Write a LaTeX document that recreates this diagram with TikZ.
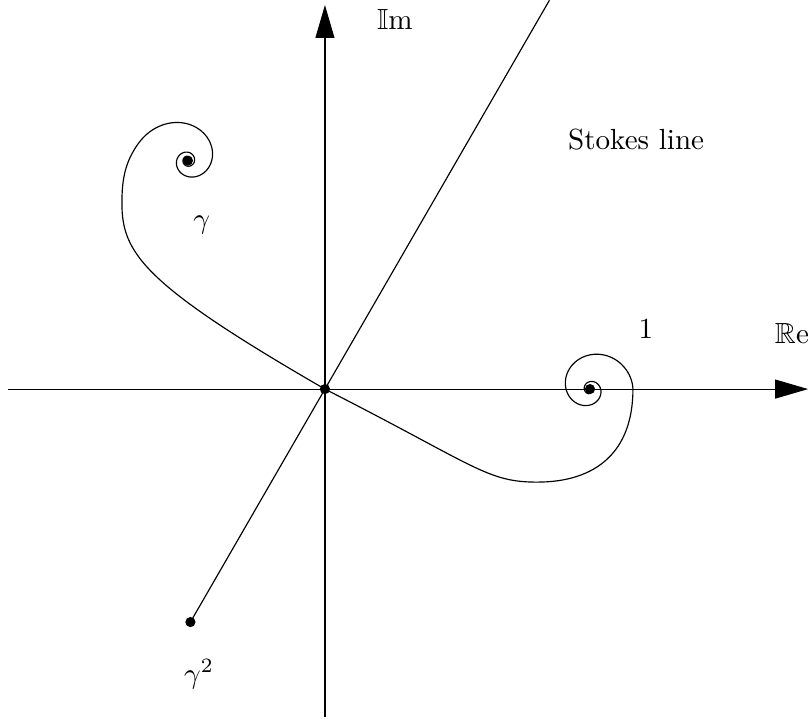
\documentclass[tikz,border=0pt]{standalone}
\usepackage{amsmath,amssymb}
\usepackage{tikz}
\usetikzlibrary{arrows.meta, calc}
\tikzstyle{root} = [circle, fill, inner sep=0pt, minimum size=3.5pt]
\tikzstyle{axis} = [draw, -{Triangle[length=11.3pt, width=6.5pt]}]

\begin{document}
\begin{tikzpicture}[x=3.2cm, y=3.2cm]
    \useasboundingbox (-1.226,-1.245) rectangle (1.830,1.468);
    \coordinate (west) at (-1.196,0);
    \coordinate (east) at (1.823,0);
    \coordinate (south) at (0,-1.238);
    \coordinate (north) at (0,1.449);
    \coordinate (stokes) at (60:1.694);

    \node (o) [root] at (0,0) {};
    \node (one) [root] at (1,0) {};
    \node (gam) [root] at (-0.517,0.862) {};
    \node (gamsq) [root] at (240:1.015) {};

    \draw [axis] (west) -- (east);
    \draw [axis] (south) -- (north);
    \draw (gamsq.center) -- (stokes);

    % from 0 round the loop into 1
    \draw (o.center) .. controls +(-27:0.64) and +(-0.189,0) .. (0.8,-0.351)
        .. controls +(0.226,0) and +(0,-0.234) .. (1.162,0)
        -- plot[domain=0.5:620, samples=160, variable=\t]
           ({1+(0.015+0.147*exp(-((\t/240)^1.4)))*cos(\t)}, {(0.015+0.147*exp(-((\t/240)^1.4)))*sin(\t)});
    % from 0 into gamma
    \draw (o.center) .. controls +(150:0.792) and +(0,-0.189) .. (-0.766,0.702)
        .. controls +(0,0.094) and +(234.6:0.083) .. ($(gam)+(161:0.198)$)
        -- plot[domain=-60:720, samples=180, variable=\t]
           ({-0.517+(0.015+0.131*exp(-\t/180))*cos(101-\t)}, {0.862+(0.015+0.131*exp(-\t/180))*sin(101-\t)});

    \node (imlab) at (0.264,1.396) {$\mathbb{I}\mathrm{m}$};
    \node (relab) at (1.762,0.211) {$\mathbb{R}\mathrm{e}$};
    \node (onelab) at (1.211,0.225) {$1$};
    \node (stokeslab) at (1.174,0.943) {Stokes line};
    \node (gamlab) at (-0.465,0.619) {$\gamma$};
    \node (gamsqlab) at (-0.475,-1.075) {$\gamma^2$};
\end{tikzpicture}
\end{document}
